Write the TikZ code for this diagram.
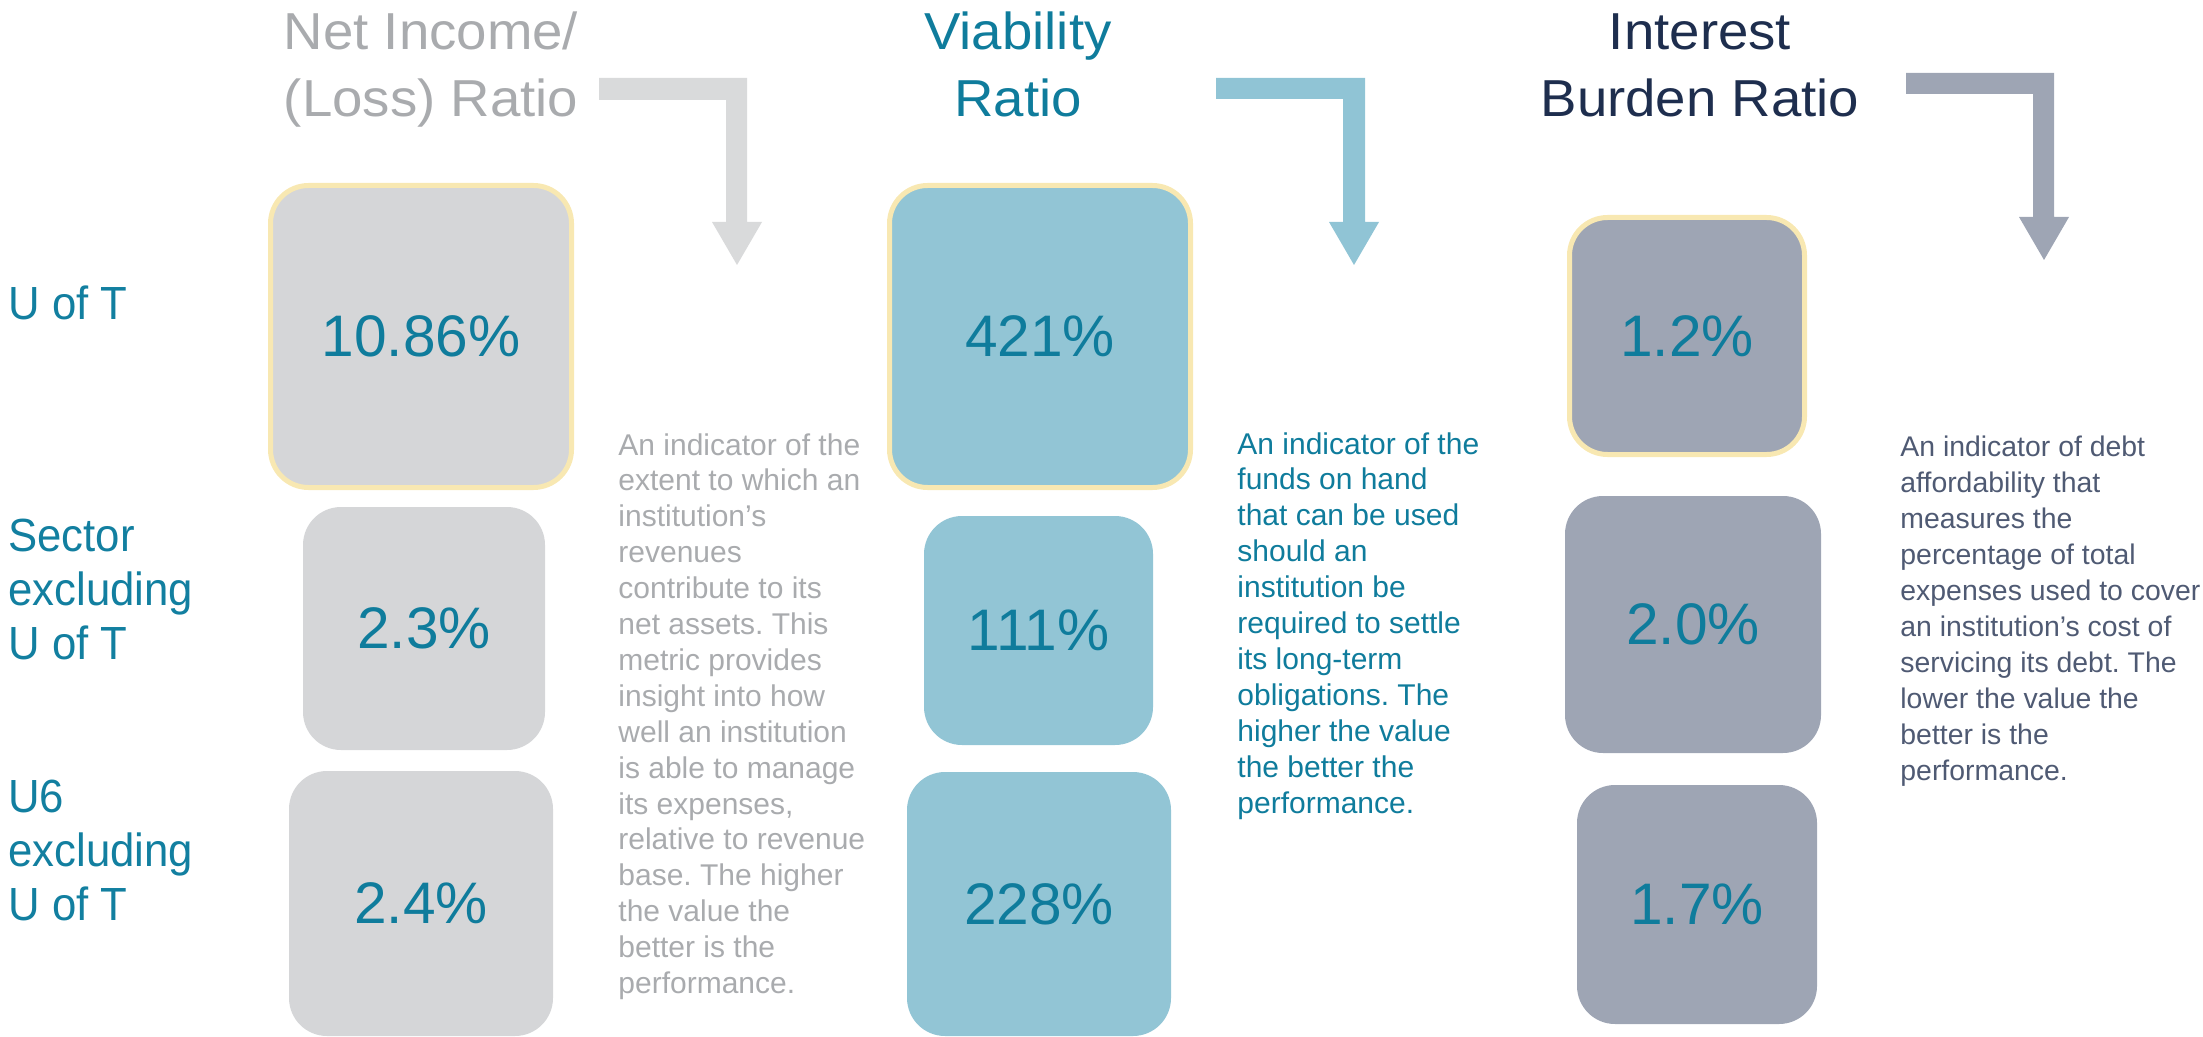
\documentclass[tikz,border=0pt]{standalone}
\usepackage{fontspec}
\setmainfont{Liberation Sans}
\newfontfamily\titlefont[FakeStretch=1.05]{Liberation Sans}
\newfontfamily\labelfont[FakeStretch=0.94]{Liberation Sans}
\frenchspacing
\definecolor{cGrayBox}{HTML}{D5D6D8}
\definecolor{cYellow}{HTML}{F8E8B2}
\definecolor{cBlueBox}{HTML}{92C5D5}
\definecolor{cSlateBox}{HTML}{9EA5B4}
\definecolor{cNum}{HTML}{0F7C9C}
\definecolor{cLabel}{HTML}{127FA0}
\definecolor{cGrayText}{HTML}{A9ABAE}
\definecolor{cNavy}{HTML}{1E2E4E}
\definecolor{cSlateText}{HTML}{4F5A73}
\definecolor{cArrowGray}{HTML}{D9DADB}
\definecolor{cArrowBlue}{HTML}{90C4D5}
\definecolor{cArrowSlate}{HTML}{9EA5B4}
\tikzset{
  valbox/.style={rectangle, rounded corners=19pt, inner sep=0pt, text=cNum,
    font=\fontsize{29.3pt}{35pt}\selectfont},
  hilite/.style={draw=cYellow, line width=2.5pt},
  ttl/.style={align=center, anchor=base, inner sep=0pt,
    font=\titlefont\fontsize{26pt}{33.5pt}\selectfont},
  rowlbl/.style={align=left, anchor=base west, inner sep=0pt, text=cLabel,
    font=\labelfont\fontsize{23.25pt}{27pt}\selectfont},
  desc/.style={align=left, anchor=base west, inner sep=0pt,
    font=\fontsize{15pt}{17.95pt}\selectfont},
}
\begin{document}
\begin{tikzpicture}[x=0.5pt,y=-0.5pt]
\useasboundingbox (0,0) rectangle (2203,1037);
% titles (anchor = baseline of last line)
\node[ttl, text=cGrayText] (t1) at (431,117) {Net Income/\\(Loss) Ratio};
\node[ttl, text=cNum] (t2) at (1018,117) {Viability\\Ratio};
\node[ttl, text=cNavy] (t3) at (1700,117) {Interest\\Burden Ratio};
% arrows
\fill[cArrowGray] (599,78) -- (747,78) -- (747,222) -- (762,222) -- (737,265) -- (712,222) -- (726,222) -- (726,100) -- (599,100) -- cycle;
\fill[cArrowBlue] (1216,78) -- (1365,78) -- (1365,222) -- (1379,222) -- (1354,265) -- (1329,222) -- (1343,222) -- (1343,99) -- (1216,99) -- cycle;
\fill[cArrowSlate] (1906,73) -- (2054,73) -- (2054,217) -- (2069,217) -- (2044,260) -- (2019,217) -- (2033,217) -- (2033,94) -- (1906,94) -- cycle;
% row labels
\node[rowlbl] (r1) at (8,320) {U of T};
\node[rowlbl] (r2) at (8,659) {Sector\\excluding\\U of T};
\node[rowlbl] (r3) at (8,920) {U6\\excluding\\U of T};
% column 1
\node[valbox, hilite, fill=cGrayBox, minimum width=150.5pt, minimum height=151pt] (b11) at (421,336.5) {10.86\%};
\node[valbox, fill=cGrayBox, minimum width=121pt, minimum height=121.5pt] (b12) at (424,628.5) {2.3\%};
\node[valbox, fill=cGrayBox, minimum width=132pt, minimum height=132.5pt] (b13) at (421,903.5) {2.4\%};
% column 2
\node[valbox, hilite, fill=cBlueBox, minimum width=150.5pt, minimum height=151pt] (b21) at (1040,336.5) {421\%};
\node[valbox, fill=cBlueBox, minimum width=114.5pt, minimum height=114.5pt] (b22) at (1038.5,630.5) {111\%};
\node[valbox, fill=cBlueBox, minimum width=132pt, minimum height=132pt] (b23) at (1039,904) {228\%};
% column 3
\node[valbox, hilite, fill=cSlateBox, minimum width=117.5pt, minimum height=118.5pt] (b31) at (1687,336) {1.2\%};
\node[valbox, fill=cSlateBox, minimum width=128pt, minimum height=128.5pt] (b32) at (1693,624.5) {2.0\%};
\node[valbox, fill=cSlateBox, minimum width=120pt, minimum height=119.5pt] (b33) at (1697,904.5) {1.7\%};
% descriptions (anchor = baseline of last line)
\node[desc, text=cGrayText] (d1) at (618,993.5) {An indicator of the\\extent to which an\\institution’s\\revenues\\contribute to its\\net assets. This\\metric provides\\insight into how\\well an institution\\is able to manage\\its expenses,\\relative to revenue\\base. The higher\\the value the\\better is the\\performance.};
\node[desc, text=cNum] (d2) at (1237,813) {An indicator of the\\funds on hand\\that can be used\\should an\\institution be\\required to settle\\its long-term\\obligations. The\\higher the value\\the better the\\performance.};
\node[desc, text=cSlateText, font=\fontsize{14.2pt}{17.95pt}\selectfont] (d3) at (1900,780) {An indicator of debt\\affordability that\\measures the\\percentage of total\\expenses used to cover\\an institution’s cost of\\servicing its debt. The\\lower the value the\\better is the\\performance.};
\end{tikzpicture}
\end{document}
